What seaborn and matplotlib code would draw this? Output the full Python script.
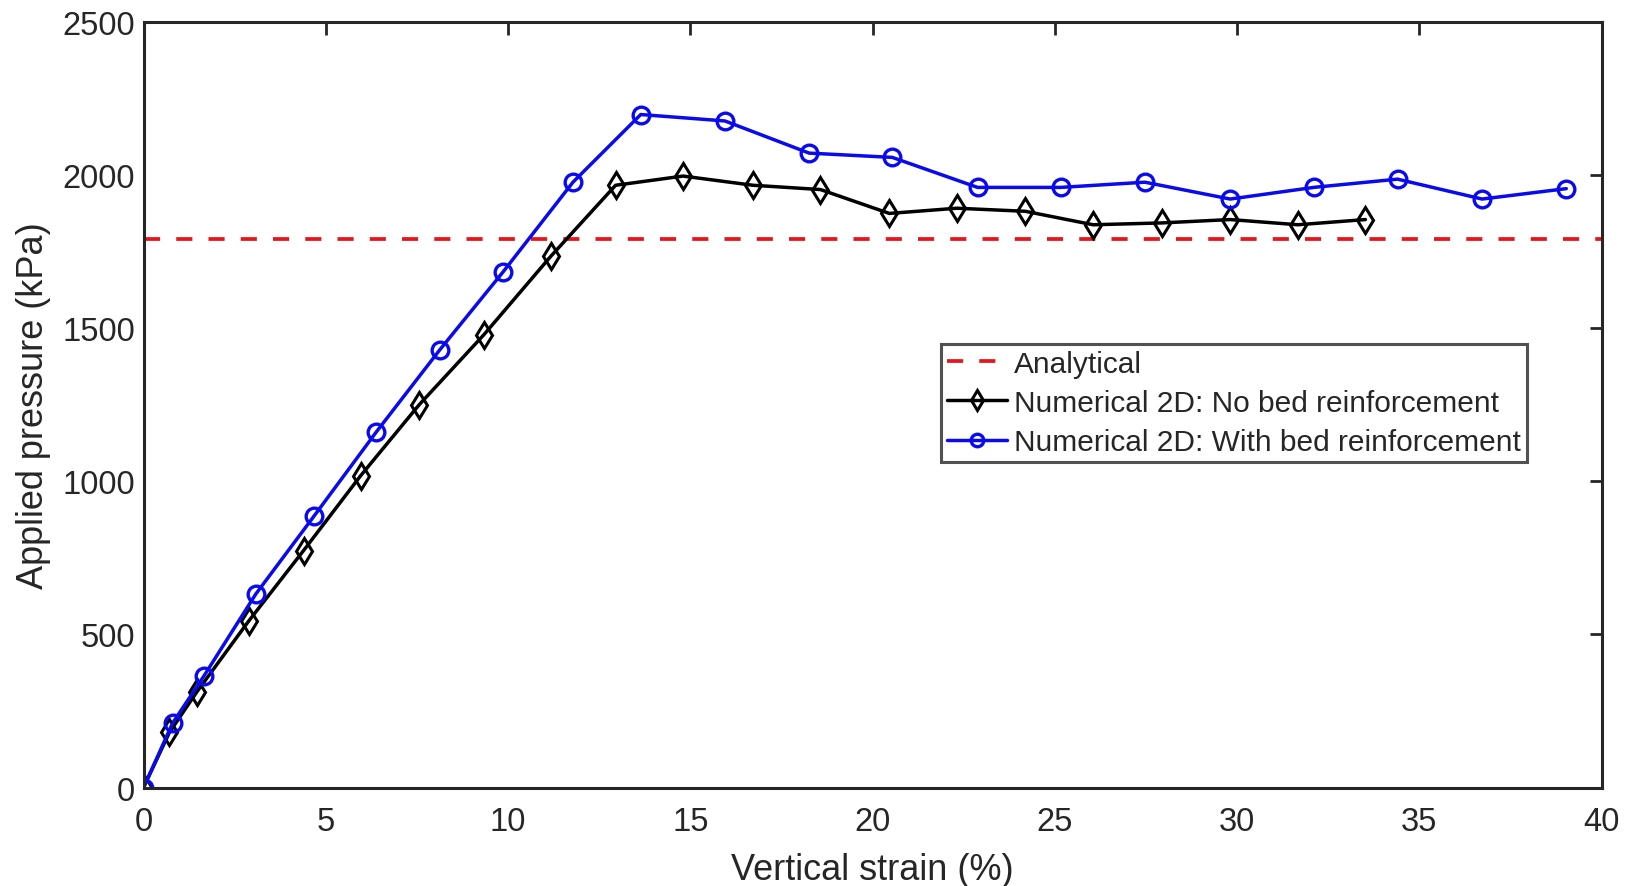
import numpy as np
import pandas as pd
import matplotlib
matplotlib.use("Agg")
import matplotlib.pyplot as plt
import seaborn as sns

# Data
strain_no = [0, 0.71, 1.46, 2.88, 4.39, 5.96, 7.56, 9.33, 11.18, 12.95, 14.8, 16.72,
             18.57, 20.46, 22.31, 24.19, 26.05, 27.93, 29.81, 31.67, 33.52]
press_no = [0, 180, 312, 543, 774, 1019, 1250, 1478, 1736, 1967, 1997, 1967,
            1953, 1875, 1892, 1882, 1838, 1844, 1855, 1838, 1855]
strain_with = [0, 0.8, 1.65, 3.08, 4.68, 6.39, 8.13, 9.87, 11.78, 13.64, 15.95, 18.26,
               20.54, 22.88, 25.16, 27.47, 29.81, 32.1, 34.4, 36.72, 39.03]
press_with = [0, 211, 363, 632, 887, 1162, 1430, 1685, 1977, 2198, 2177, 2072,
              2058, 1960, 1960, 1977, 1922, 1960, 1987, 1922, 1956]
analytical = 1790
x_ticks = [0, 5, 10, 15, 20, 25, 30, 35, 40]
y_ticks = [0, 500, 1000, 1500, 2000, 2500]
labels = ["Analytical", "Numerical 2D: No bed reinforcement",
          "Numerical 2D: With bed reinforcement"]

sns.set_style("white")
plt.rcParams['font.family'] = ['Liberation Sans', 'DejaVu Sans']

fig = plt.figure(figsize=(16.31, 8.87), dpi=100)
ax = fig.add_axes([0.088, 0.111, 0.894, 0.863])

df_no = pd.DataFrame({"x": strain_no, "y": press_no})
df_with = pd.DataFrame({"x": strain_with, "y": press_with})

ax.axhline(analytical, color="#e8141b", lw=2.7, ls=(0, (4.3, 4.3)), label=labels[0])
sns.lineplot(data=df_no, x="x", y="y", ax=ax, color="black", lw=2.5, marker="d",
             markersize=13.5, markerfacecolor="none", markeredgecolor="black",
             markeredgewidth=2.2, label=labels[1], sort=False)
sns.lineplot(data=df_with, x="x", y="y", ax=ax, color="#0a0aef", lw=2.5, marker="o",
             markersize=12, markerfacecolor="none", markeredgecolor="#0a0aef",
             markeredgewidth=2.4, label=labels[2], sort=False)

ax.set_xlim(0, 40)
ax.set_ylim(0, 2500)
ax.set_xticks(x_ticks)
ax.set_yticks(y_ticks)
ax.set_xlabel("Vertical strain (%)", fontsize=26, color="#262626", labelpad=11)
ax.set_ylabel("Applied pressure (kPa)", fontsize=26, color="#262626", labelpad=8)
ax.tick_params(direction="in", length=9, width=2, top=True, right=True,
               labelsize=23.5, colors="#262626")
ax.tick_params(axis="x", pad=13)
ax.tick_params(axis="y", pad=6)
for s in ax.spines.values():
    s.set_visible(True)
    s.set_linewidth(2.2)
    s.set_color("#262626")

leg = ax.legend(loc="upper left", bbox_to_anchor=(0.547, 0.58), fontsize=21.5,
                frameon=True, fancybox=False, handlelength=2.0, handletextpad=0.25,
                borderpad=0.2, labelspacing=0.38, borderaxespad=0, markerscale=0.75)
leg.get_frame().set_edgecolor("#262626")
leg.get_frame().set_linewidth(2.2)

fig.savefig("out.png", dpi=100)
